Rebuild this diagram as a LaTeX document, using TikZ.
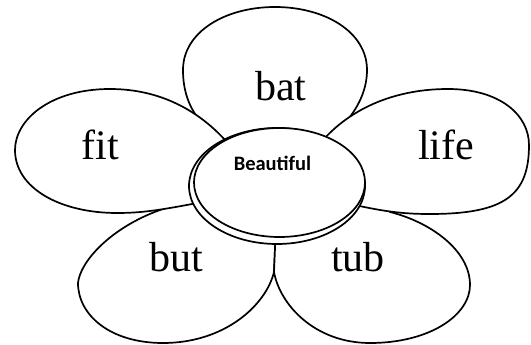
\documentclass[tikz,border=0pt]{standalone}
\usepackage{fontspec}
\setmainfont{Liberation Serif}
\newfontfamily\calibfont{Carlito}
\tikzset{
  petal/.style={draw=black, fill=white, line width=1.7pt, line join=round},
  disc/.style={draw=black, fill=white, line width=1.7pt},
  word/.style={anchor=base, inner sep=0pt, font=\fontsize{42}{42}\selectfont},
  centreword/.style={anchor=base, inner sep=0pt, font=\calibfont\bfseries\fontsize{20.5}{20.5}\selectfont}
}
\begin{document}
\begin{tikzpicture}[x=1pt,y=-1pt]
\useasboundingbox (0,0) rectangle (531,345);
% top petal
\draw[petal] (265,160) .. controls (205,140) and (183,110) .. (183,70)
  .. controls (183,32) and (225,7) .. (275,7)
  .. controls (325,7) and (367,32) .. (367,70)
  .. controls (367,105) and (340,135) .. (300,160) -- cycle;
% bottom-left petal
\draw[petal] (276,225) -- (274,272) .. controls (266,305) and (225,343) .. (163,343)
  .. controls (110,343) and (78,315) .. (78,283)
  .. controls (80,262) and (110,228) .. (160,210)
  -- (200,195) -- cycle;
% bottom-right petal
\draw[petal] (276,225) -- (274,272) .. controls (280,305) and (315,343) .. (370,343)
  .. controls (430,343) and (470,315) .. (470,285)
  .. controls (470,250) and (430,222) .. (390,212)
  -- (380,200) -- (330,200) -- cycle;
% left petal
\draw[petal] (232,148) .. controls (205,115) and (165,89) .. (110,89)
  .. controls (50,89) and (15,120) .. (15,150)
  .. controls (15,188) and (60,213) .. (117,213)
  .. controls (150,213) and (170,208) .. (240,195) -- cycle;
% right petal
\draw[petal] (318,146) .. controls (345,112) and (390,89) .. (448,89)
  .. controls (500,89) and (529,115) .. (529,145)
  .. controls (529,195) and (505,214) .. (430,214)
  .. controls (395,214) and (375,210) .. (320,197) -- cycle;
% centre
\draw[disc] (277,186) ellipse [x radius=88pt, y radius=58pt];
\draw[disc] (279.5,182.5) ellipse [x radius=85.5pt, y radius=54.5pt];
% words
\node[word] (bat) at (281,101) {bat};
\node[word] (fit) at (100,159.5) {fit};
\node[word] (life) at (446,159.5) {life};
\node[word] (but) at (176,271) {but};
\node[word] (tub) at (358,271) {tub};
\node[centreword] (beautiful) at (272.5,170.7) {Beautiful};
\end{tikzpicture}
\end{document}
